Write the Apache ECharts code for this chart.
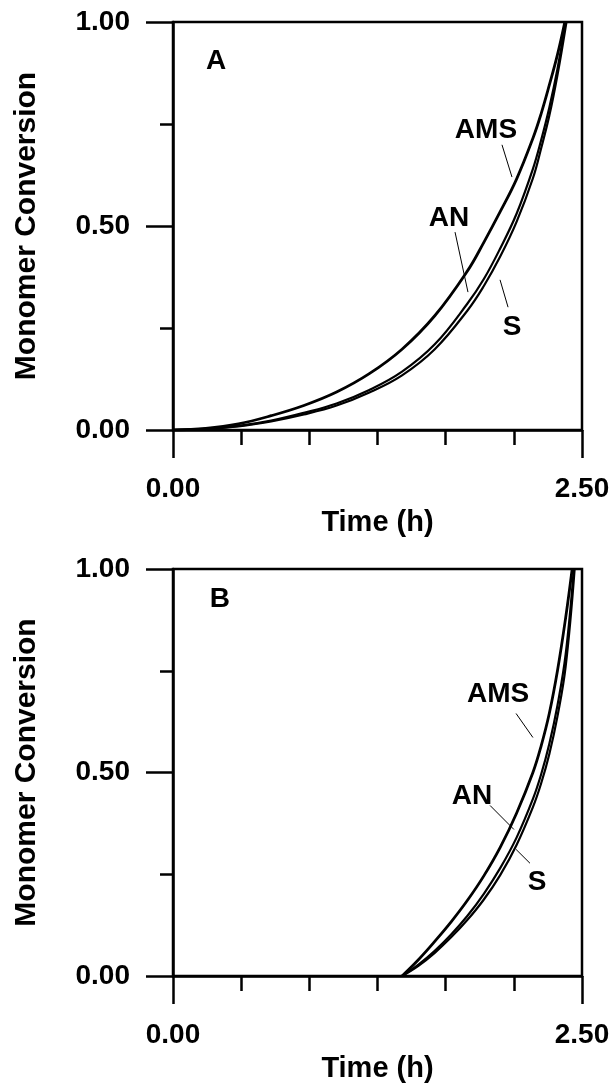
<!DOCTYPE html>
<html>
<head>
<meta charset="utf-8">
<script src="https://cdn.jsdelivr.net/npm/echarts@6/dist/echarts.min.js"></script>
<style>html,body{margin:0;padding:0;background:#fff;}#chart{width:616px;height:1084px;}</style>
</head>
<body>
<div id="chart"></div>
<script>
// ---------- DATA ----------
// Panel A: time (h) vs monomer conversion
const timeA_AMS = [0, 0.2, 0.4, 0.6, 0.8, 1.0, 1.2, 1.4, 1.6, 1.8, 1.9, 2.0, 2.1, 2.2, 2.25, 2.3, 2.35, 2.395];
const convA_AMS = [0, 0.004, 0.015, 0.035, 0.06, 0.093, 0.138, 0.198, 0.28, 0.39, 0.46, 0.535, 0.615, 0.715, 0.775, 0.845, 0.92, 1.0];
const timeA_AN  = [0, 0.2, 0.4, 0.6, 0.8, 1.0, 1.2, 1.4, 1.6, 1.8, 1.9, 2.0, 2.1, 2.2, 2.25, 2.3, 2.35, 2.40];
const convA_AN  = [0, 0.003, 0.01, 0.023, 0.042, 0.065, 0.098, 0.143, 0.21, 0.31, 0.37, 0.445, 0.53, 0.64, 0.71, 0.79, 0.885, 1.0];
const timeA_S   = [0, 0.2, 0.4, 0.6, 0.8, 1.0, 1.2, 1.4, 1.6, 1.8, 1.9, 2.0, 2.1, 2.2, 2.25, 2.3, 2.35, 2.405];
const convA_S   = [0, 0.003, 0.009, 0.021, 0.038, 0.06, 0.092, 0.134, 0.198, 0.293, 0.353, 0.425, 0.51, 0.617, 0.69, 0.77, 0.87, 1.0];

// Panel B
const timeB_AMS = [1.40, 1.5, 1.6, 1.7, 1.8, 1.9, 2.0, 2.1, 2.2, 2.25, 2.3, 2.35, 2.4, 2.44];
const convB_AMS = [0, 0.04, 0.085, 0.133, 0.186, 0.246, 0.316, 0.4, 0.5, 0.565, 0.645, 0.75, 0.88, 1.0];
const timeB_AN  = [1.40, 1.5, 1.6, 1.7, 1.8, 1.9, 2.0, 2.1, 2.2, 2.25, 2.3, 2.35, 2.4, 2.45];
const convB_AN  = [0, 0.028, 0.062, 0.102, 0.148, 0.202, 0.265, 0.34, 0.435, 0.495, 0.57, 0.665, 0.79, 1.0];
const timeB_S   = [1.40, 1.5, 1.6, 1.7, 1.8, 1.9, 2.0, 2.1, 2.2, 2.25, 2.3, 2.35, 2.4, 2.455];
const convB_S   = [0, 0.025, 0.057, 0.095, 0.138, 0.188, 0.248, 0.322, 0.415, 0.473, 0.545, 0.638, 0.76, 1.0];

// Axis ranges / tick labels
const xMin = 0, xMax = 2.5, xMinorSplits = 6;
const yMin = 0, yMax = 1, yMajor = 0.5, yMinorSplits = 2;
const xTitle = 'Time (h)';
const yTitle = 'Monomer Conversion';

// Annotations (data coordinates)
const panelNames = ['A', 'B'];
const panelLabelPos = [[0.263, 0.904], [0.287, 0.926]];
const curveNames = ['AMS', 'AN', 'S'];
const labelPosA = [[1.913, 0.735], [1.687, 0.52], [2.072, 0.252]];
const leaderA = [[[2.011, 0.699], [2.072, 0.62]], [[1.724, 0.485], [1.803, 0.338]], [[1.999, 0.368], [2.048, 0.301]]];
const labelPosB = [[1.987, 0.691], [1.828, 0.441], [2.225, 0.23]];
const leaderB = [[[2.097, 0.645], [2.2, 0.586]], [[1.938, 0.419], [2.084, 0.36]], [[2.097, 0.311], [2.182, 0.277]]];

// ---------- CHART ----------
const zip = (a, b) => a.map((v, i) => [v, b[i]]);
const FONT = '"Liberation Sans", Arial, Helvetica, sans-serif';
const BLACK = '#000';
const AXW = 2.5;

const grids = [
  { left: 173, top: 22, width: 409, height: 408 },
  { left: 173, top: 569, width: 409, height: 408 }
];

function xAxisFor(i) {
  return {
    gridIndex: i, type: 'value', min: xMin, max: xMax, interval: xMax - xMin,
    name: xTitle, nameLocation: 'middle', nameGap: 78,
    nameTextStyle: { fontFamily: FONT, fontWeight: 'bold', fontSize: 29, color: BLACK },
    axisLine: { show: true, onZero: false, lineStyle: { color: BLACK, width: AXW } },
    axisTick: { show: true, inside: false, length: 28, lineStyle: { color: BLACK, width: AXW } },
    minorTick: { show: true, splitNumber: xMinorSplits, length: 15, lineStyle: { color: BLACK, width: AXW } },
    axisLabel: { margin: 45, fontFamily: FONT, fontWeight: 'bold', fontSize: 28, color: BLACK,
      formatter: v => v.toFixed(2) },
    splitLine: { show: false }, minorSplitLine: { show: false }
  };
}
function yAxisFor(i) {
  return {
    gridIndex: i, type: 'value', min: yMin, max: yMax, interval: yMajor,
    name: yTitle, nameLocation: 'middle', nameGap: 131,
    nameTextStyle: { fontFamily: FONT, fontWeight: 'bold', fontSize: 30, color: BLACK },
    axisLine: { show: true, onZero: false, lineStyle: { color: BLACK, width: AXW } },
    axisTick: { show: true, inside: false, length: 27, lineStyle: { color: BLACK, width: AXW } },
    minorTick: { show: true, splitNumber: yMinorSplits, length: 13, lineStyle: { color: BLACK, width: AXW } },
    axisLabel: { margin: 43, fontFamily: FONT, fontWeight: 'bold', fontSize: 28, color: BLACK,
      formatter: v => v.toFixed(2) },
    splitLine: { show: false }, minorSplitLine: { show: false }
  };
}

function curve(i, name, t, c, w) {
  return {
    type: 'line', name: name, xAxisIndex: i, yAxisIndex: i,
    data: zip(t, c), smooth: 0.4, showSymbol: false, symbol: 'none',
    lineStyle: { color: BLACK, width: w }, silent: true, animation: false, z: 3
  };
}

function annot(i, labelPos, leaders) {
  const pts = labelPos.map((p, k) => ({ value: [p[0], p[1]], name: curveNames[k] }));
  pts.push({ value: panelLabelPos[i], name: panelNames[i] });
  return {
    type: 'scatter', xAxisIndex: i, yAxisIndex: i, symbolSize: 0, silent: true, animation: false,
    itemStyle: { color: BLACK, opacity: 0 },
    data: pts,
    label: { show: true, position: 'inside', formatter: p => p.name,
      fontFamily: FONT, fontWeight: 'bold', fontSize: 28, color: BLACK,
      textBorderWidth: 0, textShadowBlur: 0, opacity: 1 },
    markLine: {
      silent: true, animation: false, symbol: ['none', 'none'],
      label: { show: false },
      lineStyle: { color: BLACK, width: 1, type: 'solid', opacity: 1 },
      data: leaders.map(l => [{ coord: l[0] }, { coord: l[1] }])
    },
    z: 4
  };
}

const option = {
  backgroundColor: '#fff',
  animation: false,
  grid: grids.map(g => Object.assign({ show: true, borderColor: BLACK, borderWidth: AXW, backgroundColor: 'transparent' }, g)),
  xAxis: [xAxisFor(0), xAxisFor(1)],
  yAxis: [yAxisFor(0), yAxisFor(1)],
  series: [
    curve(0, 'AMS', timeA_AMS, convA_AMS, 2.8),
    curve(0, 'AN', timeA_AN, convA_AN, 2.2),
    curve(0, 'S', timeA_S, convA_S, 2.2),
    curve(1, 'AMS', timeB_AMS, convB_AMS, 2.8),
    curve(1, 'AN', timeB_AN, convB_AN, 2.2),
    curve(1, 'S', timeB_S, convB_S, 2.2),
    annot(0, labelPosA, leaderA),
    annot(1, labelPosB, leaderB)
  ]
};

const chart = echarts.init(document.getElementById('chart'), null, { renderer: 'canvas' });
chart.setOption(option);
</script>
</body>
</html>
